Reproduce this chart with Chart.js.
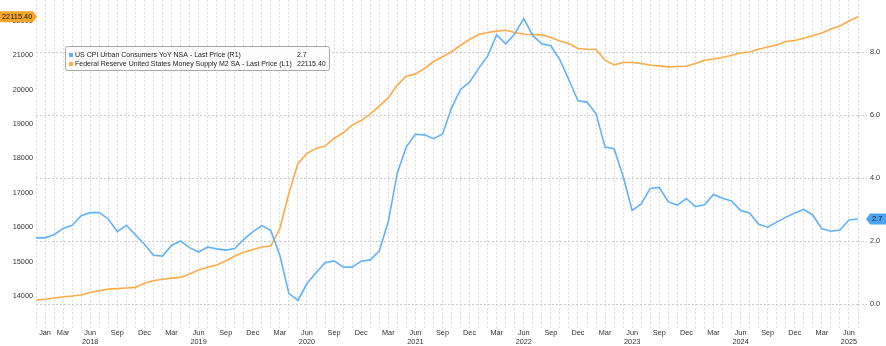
<!DOCTYPE html>
<html>
<head>
<meta charset="utf-8">
<script src="https://cdn.jsdelivr.net/npm/chart.js@4.4.1/dist/chart.umd.min.js"></script>
<style>
  html, body { margin: 0; padding: 0; background: #fff; }
</style>
</head>
<body>
<canvas id="m2-chart" width="886" height="346"></canvas>
<script>
// monthly points, Dec 2017 .. Jul 2025
const monthNames = ['Jan', 'Feb', 'Mar', 'Apr', 'May', 'Jun', 'Jul', 'Aug', 'Sep', 'Oct', 'Nov', 'Dec'];
const months = [];
for (let y = 2017; y <= 2025; y++) {
  for (let m = 0; m < 12; m++) {
    if ((y === 2017 && m < 11) || (y === 2025 && m > 6)) continue;
    months.push(monthNames[m] + ' ' + y);
  }
}

// US CPI YoY (%), right axis
const cpiData = [
  2.1,
  2.1, 2.2, 2.4, 2.5, 2.8, 2.9, 2.9, 2.7, 2.3, 2.5, 2.2, 1.9,
  1.55, 1.52, 1.86, 2.0, 1.79, 1.65, 1.81, 1.75, 1.71, 1.76, 2.05, 2.29,
  2.49, 2.33, 1.54, 0.33, 0.12, 0.65, 0.99, 1.31, 1.37, 1.18, 1.17, 1.36,
  1.4, 1.68, 2.62, 4.16, 4.99, 5.39, 5.37, 5.25, 5.39, 6.22, 6.81, 7.04,
  7.48, 7.87, 8.54, 8.26, 8.58, 9.06, 8.52, 8.26, 8.2, 7.75, 7.11, 6.45,
  6.41, 6.04, 4.98, 4.93, 4.05, 2.97, 3.18, 3.67, 3.7, 3.24, 3.14, 3.35,
  3.09, 3.15, 3.48, 3.36, 3.27, 2.97, 2.89, 2.53, 2.44, 2.6, 2.75, 2.89,
  3.0, 2.82, 2.39, 2.31, 2.35, 2.67, 2.7
];

// M2 money supply (USD bn), left axis
const m2Data = [
  13883,
  13904, 13940, 13980, 14000, 14030, 14100, 14150, 14200, 14215, 14230, 14250, 14370,
  14445, 14485, 14520, 14540, 14640, 14755, 14835, 14900, 15015, 15160, 15270, 15345,
  15425, 15455, 15966, 16985, 17855, 18145, 18290, 18357, 18580, 18745, 18967, 19100,
  19290, 19520, 19760, 20130, 20390, 20450, 20615, 20810, 20955, 21100, 21290, 21455,
  21600, 21660, 21700, 21725, 21660, 21610, 21600, 21590, 21515, 21415, 21340, 21195,
  21175, 21165, 20855, 20720, 20790, 20788, 20759, 20709, 20689, 20660, 20671, 20680,
  20759, 20854, 20892, 20933, 21000, 21066, 21095, 21174, 21241, 21299, 21398, 21427,
  21493, 21572, 21647, 21764, 21851, 21996, 22115.40
];

const leftTicks = [14000, 15000, 16000, 17000, 18000, 19000, 20000, 21000, 22000];
const rightTicks = [0, 2, 4, 6, 8];
const xTickMonths = ['Mar', 'Jun', 'Sep', 'Dec'];

const cpiName = 'US CPI Urban Consumers YoY NSA - Last Price (R1)';
const m2Name = 'Federal Reserve United States Money Supply M2 SA - Last Price (L1)';

const blue = '#62b1f8';
const orange = '#fdaa48';
const textCol = '#333333';
const fontFam = '"Liberation Sans", Arial, sans-serif';

function badge(ctx, x, y, w, h, tip, dir, fill, text) {
  // dir 1 = arrow on the right, -1 = arrow on the left
  ctx.beginPath();
  if (dir === 1) {
    ctx.moveTo(x, y - h / 2);
    ctx.lineTo(x + w, y - h / 2);
    ctx.lineTo(x + w + tip, y);
    ctx.lineTo(x + w, y + h / 2);
    ctx.lineTo(x, y + h / 2);
  } else {
    ctx.moveTo(x + w, y - h / 2);
    ctx.lineTo(x, y - h / 2);
    ctx.lineTo(x - tip, y);
    ctx.lineTo(x, y + h / 2);
    ctx.lineTo(x + w, y + h / 2);
  }
  ctx.closePath();
  ctx.fillStyle = fill;
  ctx.fill();
  ctx.fillStyle = '#1a1a1a';
  ctx.font = '7.4px ' + fontFam;
  ctx.textBaseline = 'middle';
  ctx.textAlign = 'left';
  ctx.fillText(text, x + 2, y + 0.5);
}

const overlayPlugin = {
  id: 'overlay',
  afterDraw(chart) {
    const ctx = chart.ctx;
    ctx.save();

    // legend box
    ctx.fillStyle = '#fcfcfc';
    ctx.strokeStyle = '#a8a8a8';
    ctx.lineWidth = 1;
    ctx.beginPath();
    ctx.roundRect(65.5, 46.5, 264, 24, 2);
    ctx.fill();
    ctx.stroke();

    ctx.fillStyle = blue;
    ctx.fillRect(69, 53, 4, 4);
    ctx.fillStyle = orange;
    ctx.fillRect(69, 62, 4, 4);

    ctx.fillStyle = '#222';
    ctx.font = '7px ' + fontFam;
    ctx.textBaseline = 'middle';
    ctx.textAlign = 'left';
    ctx.fillText(cpiName, 75, 55.5);
    ctx.fillText(m2Name, 75, 64.5);
    ctx.fillText(cpiData[cpiData.length - 1].toFixed(1), 297, 55.5);
    ctx.fillText(m2Data[m2Data.length - 1].toFixed(2), 297, 64.5);

    // last value badges
    const lastM2 = m2Data[m2Data.length - 1];
    const lastCpi = cpiData[cpiData.length - 1];
    const yM2 = chart.scales.y.getPixelForValue(lastM2);
    const yCpi = chart.scales.y1.getPixelForValue(lastCpi);
    badge(ctx, 0, yM2, 33, 11, 4, 1, '#f5a52c', lastM2.toFixed(2));
    badge(ctx, 870, yCpi, 16, 11, 4, -1, '#4ba4f2', lastCpi.toFixed(1));

    ctx.restore();
  }
};

const chartCanvas = document.getElementById('m2-chart');

const chartData = {
  labels: months,
  datasets: [{
    label: cpiName,
    data: cpiData,
    yAxisID: 'y1',
    borderColor: blue,
    borderWidth: 1.6,
    pointRadius: 0,
    tension: 0,
    fill: false
  }, {
    label: m2Name,
    data: m2Data,
    yAxisID: 'y',
    borderColor: orange,
    borderWidth: 1.6,
    pointRadius: 0,
    tension: 0,
    fill: false
  }]
};

const chartOptions = {
  responsive: false,
  animation: false,
  devicePixelRatio: 1,
  layout: { padding: 0 },
  plugins: {
    legend: { display: false },
    tooltip: { enabled: false }
  },
  scales: {
    x: {
      type: 'category',
      offset: false,
      grid: {
        color: '#dcdcdc',
        lineWidth: 1,
        drawTicks: true,
        tickLength: 10,
        tickColor: '#dcdcdc',
        tickBorderDash: [2, 2]
      },
      border: { display: false, dash: [2, 2] },
      ticks: {
        autoSkip: false,
        maxRotation: 0,
        minRotation: 0,
        padding: 0,
        color: textCol,
        font: { family: fontFam, size: 7.3, lineHeight: 1.25 },
        callback: function (value, index) {
          if (index === 1) return 'Jan';
          if (index === 0) return '';
          const parts = months[index].split(' ');
          if (parts[0] === 'Jun') return ['Jun', parts[1]];
          if (xTickMonths.includes(parts[0])) return parts[0];
          return '';
        }
      },
      afterFit: function (scale) {
        scale.height = 28;
        scale.paddingLeft = 0;
        scale.paddingRight = 0;
      }
    },
    y: {
      type: 'linear',
      position: 'left',
      min: 13360,
      max: 22605,
      afterBuildTicks: function (scale) {
        scale.ticks = leftTicks.map(v => ({ value: v }));
      },
      grid: { display: false, drawTicks: false },
      border: { display: false },
      ticks: {
        padding: 3,
        color: textCol,
        font: { family: fontFam, size: 7.3 },
        callback: v => String(v)
      },
      afterFit: function (scale) {
        scale.width = 36;
        scale.paddingTop = 0;
        scale.paddingBottom = 0;
      }
    },
    y1: {
      type: 'linear',
      position: 'right',
      min: -0.444,
      max: 9.651,
      afterBuildTicks: function (scale) {
        scale.ticks = rightTicks.map(v => ({ value: v }));
      },
      grid: {
        color: '#cbcbcb',
        lineWidth: 1,
        drawTicks: true,
        tickLength: 9,
        tickColor: '#cbcbcb',
        tickBorderDash: [2, 2]
      },
      border: { display: false, dash: [2, 2] },
      ticks: {
        padding: 3,
        color: textCol,
        font: { family: fontFam, size: 7.3 },
        callback: v => v.toFixed(1)
      },
      afterFit: function (scale) {
        scale.width = 28;
        scale.paddingTop = 0;
        scale.paddingBottom = 0;
      }
    }
  }
};

const m2Chart = new Chart(chartCanvas, {
  type: 'line',
  data: chartData,
  options: chartOptions,
  plugins: [overlayPlugin]
});
</script>
</body>
</html>
